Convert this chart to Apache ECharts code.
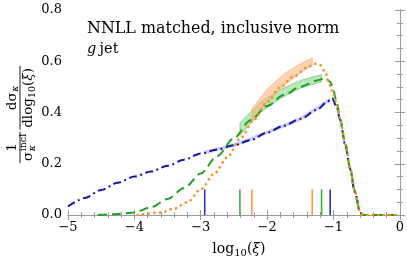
<!DOCTYPE html>
<html><head><meta charset="utf-8">
<script src="https://cdn.jsdelivr.net/npm/echarts@6/dist/echarts.min.js"></script>
<style>html,body{margin:0;padding:0;background:#fff}#c{width:407px;height:263px}</style>
</head><body><div id="c"></div>
<script>
// ---- data ----
const xTicks = [-5, -4, -3, -2, -1, 0];
const yTicks = [0.0, 0.2, 0.4, 0.6, 0.8];

const blueX = [-5, -4.75, -4.5, -4.25, -4, -3.75, -3.5, -3.25, -3, -2.75, -2.5, -2.25, -2, -1.75, -1.5, -1.25, -1.1, -1.02, -0.95, -0.9, -0.82, -0.75, -0.68, -0.6, -0.57];
const blueY = [0.033, 0.066, 0.098, 0.126, 0.15, 0.17, 0.192, 0.216, 0.24, 0.256, 0.272, 0.292, 0.322, 0.348, 0.375, 0.41, 0.44, 0.456, 0.42, 0.37, 0.27, 0.18, 0.09, 0.012, 0];

const greenX = [-4.55, -4.3, -4.0, -3.75, -3.5, -3.25, -3.0, -2.75, -2.5, -2.25, -2.0, -1.75, -1.5, -1.25, -1.12, -1.05, -1.0, -0.95, -0.9, -0.82, -0.75, -0.68, -0.6, -0.57, 0];
const greenY = [0, 0.003, 0.01, 0.03, 0.062, 0.105, 0.162, 0.23, 0.3, 0.37, 0.425, 0.468, 0.5, 0.525, 0.535, 0.52, 0.485, 0.437, 0.375, 0.275, 0.185, 0.095, 0.012, 0, 0];

const orangeX = [-3.95, -3.6, -3.4, -3.2, -3.0, -2.8, -2.6, -2.4, -2.2, -2.0, -1.8, -1.6, -1.4, -1.28, -1.2, -1.13, -1.05, -1.0, -0.95, -0.9, -0.82, -0.75, -0.68, -0.6, -0.57, 0];
const orangeY = [0, 0.01, 0.025, 0.05, 0.1, 0.16, 0.225, 0.3, 0.37, 0.44, 0.5, 0.54, 0.575, 0.59, 0.585, 0.56, 0.505, 0.47, 0.43, 0.375, 0.275, 0.185, 0.095, 0.012, 0, 0];

const orangeBandX = [-2.23, -2.0, -1.75, -1.5, -1.32];
const orangeBandLow = [0.37, 0.44, 0.505, 0.555, 0.585];
const orangeBandHigh = [0.415, 0.49, 0.55, 0.59, 0.613];

const greenBandX = [-2.41, -2.1, -1.8, -1.5, -1.18];
const greenBandLow = [0.31, 0.4, 0.455, 0.495, 0.52];
const greenBandHigh = [0.36, 0.44, 0.49, 0.525, 0.548];

const blueBandX = [-2.94, -2.5, -2.0, -1.5, -1.05];
const blueBandLow = [0.238, 0.266, 0.316, 0.369, 0.445];
const blueBandHigh = [0.25, 0.278, 0.328, 0.381, 0.457];

const blueMarks = [-2.94, -1.05];
const greenMarks = [-2.41, -1.18];
const orangeMarks = [-2.23, -1.32];
const markHeight = 0.1;

const titleText = 'NNLL matched, inclusive norm';
const subText = 'jet';

// ---- styling ----
const SERIF = '"DejaVu Serif", "Liberation Serif", serif';
const FRAME = '#9a9a9a';
const BLUE = '#1414a8', GREEN = '#1ea01e', ORANGE = '#ff8a1e';

const zip = (xs, ys) => xs.map((x, i) => [x, ys[i]]);
const mctx = document.createElement('canvas').getContext('2d');
function tw(text, size, style) { mctx.font = (style || 'normal') + ' ' + size + 'px "DejaVu Serif"'; return mctx.measureText(text).width; }

function bandSeries(xs, lo, hi, fill, stroke, z) {
  return {
    type: 'custom', z: z, silent: true, data: [0],
    renderItem: function (params, api) {
      const pts = [];
      for (let i = 0; i < xs.length; i++) pts.push(api.coord([xs[i], hi[i]]));
      for (let i = xs.length - 1; i >= 0; i--) pts.push(api.coord([xs[i], lo[i]]));
      return { type: 'polygon', shape: { points: pts }, style: { fill: fill, stroke: stroke, lineWidth: 0.8 } };
    }
  };
}
function markSeries(xs, color) {
  return {
    type: 'custom', z: 3, silent: true, data: xs.map(x => [x, markHeight]),
    renderItem: function (params, api) {
      const a = api.coord([api.value(0), 0]);
      const b = api.coord([api.value(0), api.value(1)]);
      return { type: 'line', shape: { x1: a[0], y1: a[1], x2: b[0], y2: b[1] }, style: { stroke: color, lineWidth: 1.6 } };
    }
  };
}
function lineSeries(xs, ys, color, dash, width, cap, z) {
  return {
    type: 'line', data: zip(xs, ys), showSymbol: false, smooth: 0.3, smoothMonotone: 'x', z: z,
    lineStyle: { color: color, width: width, type: dash, cap: cap }, silent: true, animation: false
  };
}

// ---- rotated y-axis label: (1 / sigma_kappa^incl) (d sigma_kappa / d log10(xi)) ----
function yLabel() {
  const F = 13.5, S = 9.5;
  const mid = (baseline, size) => baseline - 0.346 * size;
  const txt = (t, x, base, size, extra) => Object.assign({ type: 'text', x: x, y: mid(base, size),
    style: Object.assign({ text: t, fontFamily: SERIF, fontSize: size, fill: '#000', align: 'left', verticalAlign: 'middle' }, extra || {}) });
  const kids = [];
  const b1 = 7;
  const sw = tw('\u03C3', F);
  kids.push(txt('\u03C3', b1, 13, F));
  kids.push(txt('\u03BA', b1 + sw + 0.5, 16, S, { fontStyle: 'italic' }));
  kids.push(txt('incl', b1 + sw + 0.5, 7, S));
  const b1End = b1 + sw + 0.5 + Math.max(tw('incl', S), tw('\u03BA', S, 'italic'));
  const b2 = b1End + 6;
  let x = b2;
  kids.push(txt('dlog', x, 13, F)); x += tw('dlog', F);
  kids.push(txt('10', x, 16, S)); x += tw('10', S);
  kids.push(txt('(', x, 13, F)); x += tw('(', F);
  kids.push(txt('\u03BE', x, 13, F, { fontStyle: 'italic' })); x += tw('\u03BE', F, 'italic');
  kids.push(txt(')', x, 13, F)); x += tw(')', F);
  const b2End = x;
  kids.push({ type: 'line', shape: { x1: b1 - 2, y1: 0, x2: b1End + 2, y2: 0 }, style: { stroke: '#000', lineWidth: 0.9 } });
  kids.push({ type: 'line', shape: { x1: b2 - 2, y1: 0, x2: b2End + 2, y2: 0 }, style: { stroke: '#000', lineWidth: 0.9 } });
  const c1 = (b1 + b1End) / 2;
  kids.push(txt('1', c1 - tw('1', F) / 2, -3, F));
  const nw = tw('d\u03C3', F) + tw('\u03BA', S, 'italic') + 0.5;
  const n0 = (b2 + b2End) / 2 - nw / 2;
  kids.push(txt('d\u03C3', n0, -3, F));
  kids.push(txt('\u03BA', n0 + tw('d\u03C3', F) + 0.5, -1, S, { fontStyle: 'italic' }));
  return { type: 'group', x: 20, y: 168, rotation: Math.PI / 2, children: kids };
}

const axisCommon = {
  type: 'value', splitLine: { show: false },
  axisLine: { show: true, lineStyle: { color: FRAME, width: 1 } },
  axisTick: { show: true, inside: true, length: 5, lineStyle: { color: FRAME } },
  minorTick: { show: true, length: 3, lineStyle: { color: FRAME } }
};
const fmtX = v => (v < 0 ? '\u2212' + Math.abs(v) : String(v));

const chart = echarts.init(document.getElementById('c'), null, { renderer: 'canvas' });
chart.setOption({
  animation: false,
  grid: { left: 68, right: 5, top: 10, bottom: 48 },
  xAxis: [
    Object.assign({}, axisCommon, {
      min: xTicks[0], max: xTicks[xTicks.length - 1], interval: 1, position: 'bottom',
      minorTick: Object.assign({}, axisCommon.minorTick, { splitNumber: 5 }),
      axisLabel: { fontFamily: SERIF, fontSize: 13, color: '#000', margin: 6, formatter: fmtX },
      name: '{a|log}{s|10}{a|(}{i|\u03BE}{a|)}', nameLocation: 'middle', nameGap: 26,
      nameTextStyle: { padding: [0, 0, 0, 10], rich: {
        a: { fontFamily: SERIF, fontSize: 14, color: '#000', verticalAlign: 'middle' },
        i: { fontFamily: SERIF, fontStyle: 'italic', fontSize: 14, color: '#000', verticalAlign: 'middle' },
        s: { fontFamily: SERIF, fontSize: 10, color: '#000', verticalAlign: 'bottom', padding: [7, 0, 0, 0] }
      } }
    }),
    Object.assign({}, axisCommon, {
      min: xTicks[0], max: xTicks[xTicks.length - 1], interval: 1, position: 'top',
      minorTick: Object.assign({}, axisCommon.minorTick, { splitNumber: 5 }),
      axisLabel: { show: false }
    })
  ],
  yAxis: [
    Object.assign({}, axisCommon, {
      min: yTicks[0], max: yTicks[yTicks.length - 1], interval: 0.2, position: 'left',
      minorTick: Object.assign({}, axisCommon.minorTick, { splitNumber: 4 }),
      axisLabel: { fontFamily: SERIF, fontSize: 13, color: '#000', margin: 6, formatter: v => v.toFixed(1) }
    }),
    Object.assign({}, axisCommon, {
      min: yTicks[0], max: yTicks[yTicks.length - 1], interval: 0.2, position: 'right',
      minorTick: Object.assign({}, axisCommon.minorTick, { splitNumber: 4 }),
      axisLabel: { show: false }
    })
  ],
  series: [
    bandSeries(blueBandX, blueBandLow, blueBandHigh, 'rgba(150,150,235,0.45)', 'rgba(150,150,235,0.3)', 1),
    bandSeries(greenBandX, greenBandLow, greenBandHigh, 'rgba(120,205,120,0.5)', 'rgba(60,170,60,0.55)', 1),
    bandSeries(orangeBandX, orangeBandLow, orangeBandHigh, 'rgba(255,175,115,0.55)', 'rgba(240,140,70,0.55)', 2),
    markSeries(blueMarks, '#3434b8'),
    markSeries(greenMarks, '#3cb43c'),
    markSeries(orangeMarks, '#ff9a3c'),
    lineSeries(blueX, blueY, BLUE, [8, 3.5, 2, 3.5], 2, 'butt', 5),
    lineSeries(greenX, greenY, GREEN, [9, 5], 2, 'butt', 6),
    lineSeries(orangeX, orangeY, ORANGE, [0.1, 5.5], 2.6, 'round', 7)
  ],
  graphic: [
    { type: 'text', x: 87, y: 29.3, style: { text: titleText, fontFamily: SERIF, fontSize: 15.9, fill: '#000', verticalAlign: 'middle' } },
    { type: 'text', x: 87, y: 49, style: {
      text: '{i|g} {r|' + subText + '}', verticalAlign: 'middle', rich: {
        i: { fontFamily: SERIF, fontStyle: 'italic', fontSize: 14.5, fill: '#000' },
        r: { fontFamily: SERIF, fontSize: 14.5, fill: '#000' } } } },
    yLabel()
  ]
});
</script>
</body></html>
